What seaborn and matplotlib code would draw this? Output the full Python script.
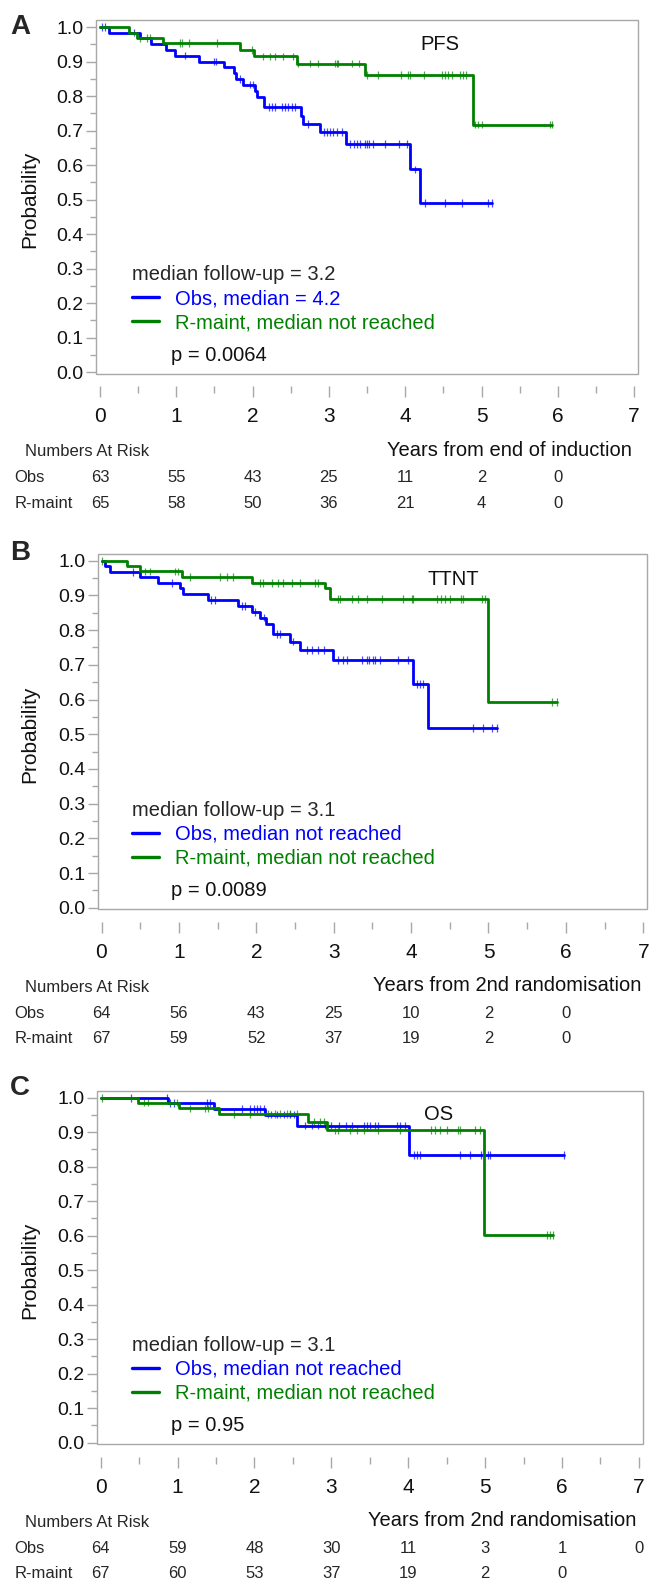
import numpy as np
import pandas as pd
import matplotlib
matplotlib.use('Agg')
import matplotlib.pyplot as plt
import matplotlib.transforms as mtransforms
from matplotlib.lines import Line2D
from matplotlib.patches import Rectangle
from matplotlib.ticker import MultipleLocator
import seaborn as sns

sns.set_style('white')
plt.rcParams['font.family'] = ['Liberation Sans', 'DejaVu Sans']

W, H = 649, 1583
BLUE = '#0000ff'
GREEN = '#008000'
FRAME = '#a8a8a8'
ARMS = ['Obs', 'R-maint']
PALETTE = {'Obs': BLUE, 'R-maint': GREEN}

# ---- PFS (panel A) ----
pfs_obs_t = [0, 0.12, 0.52, 0.67, 0.87, 0.98, 1.30, 1.62, 1.76, 1.78, 1.88, 2.03, 2.06, 2.15,
             2.63, 2.66, 2.88, 3.23, 4.06, 4.19]
pfs_obs_s = [1.0, 0.984, 0.968, 0.951, 0.934, 0.917, 0.900, 0.883, 0.867, 0.850, 0.833, 0.815, 0.796, 0.768,
             0.742, 0.719, 0.695, 0.661, 0.587, 0.490]
pfs_obs_end = 5.14
pfs_obs_cens = [0.03, 0.06, 0.45, 1.11, 1.49, 1.52, 1.84, 1.96, 2.01, 2.22, 2.26, 2.30, 2.38, 2.42, 2.47,
                2.51, 2.55, 2.73, 2.93, 2.97, 3.01, 3.06, 3.10, 3.17, 3.28, 3.33, 3.37, 3.41, 3.47, 3.50,
                3.53, 3.58, 3.73, 3.92, 4.02, 4.13, 4.26, 4.52, 4.74, 5.09, 5.14]
pfs_rm_t = [0, 0.38, 0.48, 0.82, 1.83, 2.02, 2.58, 3.47, 4.89]
pfs_rm_s = [1.0, 0.984, 0.968, 0.953, 0.934, 0.915, 0.894, 0.860, 0.717]
pfs_rm_end = 5.93
pfs_rm_cens = [0.52, 0.61, 0.66, 1.05, 1.07, 1.16, 1.53, 1.99, 2.14, 2.23, 2.29, 2.40, 2.53, 2.60, 2.75,
               2.86, 3.08, 3.10, 3.12, 3.30, 3.39, 3.50, 3.65, 3.95, 4.04, 4.06, 4.24, 4.48, 4.52, 4.56,
               4.61, 4.72, 4.76, 4.80, 4.92, 4.96, 5.00, 5.90, 5.93]

# ---- TTNT (panel B) ----
ttnt_obs_t = [0, 0.045, 0.11, 0.50, 0.73, 1.01, 1.05, 1.38, 1.77, 1.95, 2.05, 2.12, 2.22, 2.43, 2.56,
              2.99, 4.03, 4.22]
ttnt_obs_s = [1.0, 0.984, 0.968, 0.952, 0.936, 0.920, 0.903, 0.887, 0.870, 0.853, 0.836, 0.819, 0.788,
              0.767, 0.743, 0.714, 0.644, 0.517]
ttnt_obs_end = 5.11
ttnt_obs_cens = [0.41, 0.91, 1.42, 1.47, 1.81, 1.85, 1.98, 2.10, 2.27, 2.31, 2.48, 2.65, 2.72, 2.80,
                 2.88, 3.06, 3.12, 3.17, 3.36, 3.43, 3.45, 3.51, 3.53, 3.60, 3.83, 3.96, 4.07, 4.11,
                 4.16, 4.80, 4.93, 5.04, 5.11]
ttnt_rm_t = [0, 0.33, 0.50, 1.04, 1.95, 2.89, 2.95, 4.99]
ttnt_rm_s = [1.0, 0.984, 0.969, 0.953, 0.936, 0.920, 0.889, 0.592]
ttnt_rm_end = 5.89
ttnt_rm_cens = [0.01, 0.56, 0.63, 0.95, 0.99, 1.14, 1.53, 1.62, 1.70, 2.05, 2.09, 2.20, 2.28, 2.35,
                2.46, 2.56, 2.76, 2.80, 3.06, 3.08, 3.23, 3.32, 3.43, 3.62, 3.90, 4.01, 4.03, 4.33,
                4.39, 4.44, 4.50, 4.65, 4.67, 4.91, 4.95, 5.82, 5.89]

# ---- OS (panel C) ----
os_obs_t = [0, 0.88, 1.47, 2.14, 2.56, 4.01]
os_obs_s = [1.0, 0.984, 0.968, 0.951, 0.919, 0.834]
os_obs_end = 6.02
os_obs_cens = [0.40, 0.86, 0.90, 0.95, 1.38, 1.42, 1.84, 1.94, 1.99, 2.03, 2.07, 2.12, 2.22, 2.29,
               2.38, 2.46, 2.52, 2.66, 2.75, 2.83, 2.92, 3.00, 3.10, 3.19, 3.27, 3.42, 3.46, 3.50,
               3.57, 3.61, 3.85, 3.89, 3.96, 4.07, 4.11, 4.15, 4.67, 4.80, 4.95, 5.04, 5.06, 6.02]
os_rm_t = [0, 0.49, 1.02, 1.54, 2.70, 2.94, 4.98]
os_rm_s = [1.0, 0.986, 0.969, 0.952, 0.930, 0.906, 0.602]
os_rm_end = 5.88
os_rm_cens = [0.02, 0.56, 0.62, 0.99, 1.16, 1.36, 1.40, 1.73, 1.94, 2.18, 2.27, 2.33, 2.42, 2.46,
              2.55, 2.77, 2.85, 2.90, 3.05, 3.09, 3.24, 3.33, 3.42, 3.61, 3.89, 4.30, 4.35, 4.41,
              4.50, 4.65, 4.67, 4.87, 4.94, 5.80, 5.84, 5.88]

# numbers at risk
nar_years = [0, 1, 2, 3, 4, 5, 6, 7]
pfs_nar_obs = [63, 55, 43, 25, 11, 2, 0]
pfs_nar_rm = [65, 58, 50, 36, 21, 4, 0]
ttnt_nar_obs = [64, 56, 43, 25, 10, 2, 0]
ttnt_nar_rm = [67, 59, 52, 37, 19, 2, 0]
os_nar_obs = [64, 59, 48, 30, 11, 3, 1, 0]
os_nar_rm = [67, 60, 53, 37, 19, 2, 0]

panels = [
    dict(letter='A', name='PFS', fu='3.2', p='p = 0.0064',
         obs_label='Obs, median = 4.2', rm_label='R-maint, median not reached',
         xlabel='Years from end of induction',
         obs=(pfs_obs_t, pfs_obs_s, pfs_obs_end, pfs_obs_cens),
         rm=(pfs_rm_t, pfs_rm_s, pfs_rm_end, pfs_rm_cens),
         nar=(pfs_nar_obs, pfs_nar_rm),
         x0=100.0, ppy=76.3, y1=27.0, y0=372.0, letter_y=26.5, name_xy=(4.45, 0.949)),
    dict(letter='B', name='TTNT', fu='3.1', p='p = 0.0089',
         obs_label='Obs, median not reached', rm_label='R-maint, median not reached',
         xlabel='Years from 2nd randomisation',
         obs=(ttnt_obs_t, ttnt_obs_s, ttnt_obs_end, ttnt_obs_cens),
         rm=(ttnt_rm_t, ttnt_rm_s, ttnt_rm_end, ttnt_rm_cens),
         nar=(ttnt_nar_obs, ttnt_nar_rm),
         x0=101.5, ppy=77.4, y1=560.7, y0=907.7, letter_y=553, name_xy=(4.54, 0.947)),
    dict(letter='C', name='OS', fu='3.1', p='p = 0.95',
         obs_label='Obs, median not reached', rm_label='R-maint, median not reached',
         xlabel='Years from 2nd randomisation',
         obs=(os_obs_t, os_obs_s, os_obs_end, os_obs_cens),
         rm=(os_rm_t, os_rm_s, os_rm_end, os_rm_cens),
         nar=(os_nar_obs, os_nar_rm),
         x0=100.6, ppy=76.9, y1=1097.7, y0=1442.7, letter_y=1088, name_xy=(4.39, 0.950)),
]

XLIM = (-0.05, 7.05)
YLIM = (-0.005, 1.02)
FS = 14.5


def curve_frame(arm, t, s, end):
    return pd.DataFrame({'time': list(t) + [end], 'surv': list(s) + [s[-1]], 'arm': arm})


def censor_frame(arm, t, s, cens):
    idx = np.searchsorted(t, cens, side='right') - 1
    return pd.DataFrame({'time': cens, 'surv': np.asarray(s)[idx], 'arm': arm})


fig = plt.figure(figsize=(W / 100, H / 100), dpi=100)

for pn in panels:
    ppv = pn['y0'] - pn['y1']
    left = pn['x0'] + XLIM[0] * pn['ppy']
    right = pn['x0'] + XLIM[1] * pn['ppy']
    top = pn['y1'] - (YLIM[1] - 1) * ppv
    bottom = pn['y0'] - YLIM[0] * ppv
    ax = fig.add_axes([left / W, 1 - bottom / H, (right - left) / W, (bottom - top) / H])

    curves = pd.concat([curve_frame('Obs', *pn['obs'][:3]), curve_frame('R-maint', *pn['rm'][:3])])
    cens = pd.concat([censor_frame('Obs', pn['obs'][0], pn['obs'][1], pn['obs'][3]),
                      censor_frame('R-maint', pn['rm'][0], pn['rm'][1], pn['rm'][3])])

    sns.lineplot(data=curves, x='time', y='surv', hue='arm', hue_order=ARMS, palette=PALETTE,
                 estimator=None, sort=False, drawstyle='steps-post', lw=2.0, legend=False, ax=ax)
    sns.scatterplot(data=cens, x='time', y='surv', hue='arm', hue_order=ARMS, palette=PALETTE,
                    marker='|', s=30, linewidth=0.9, alpha=0.7, legend=False, ax=ax)

    ax.set_xlim(*XLIM)
    ax.set_ylim(*YLIM)
    ax.set_xlabel('')
    ax.set_ylabel('')
    ax.xaxis.set_major_locator(MultipleLocator(1))
    ax.xaxis.set_minor_locator(MultipleLocator(0.5))
    ax.yaxis.set_major_locator(MultipleLocator(0.1))
    ax.yaxis.set_minor_locator(MultipleLocator(0.05))
    ax.yaxis.set_major_formatter(lambda v, _: f'{v:.1f}')

    for side in ['top', 'right', 'left', 'bottom']:
        ax.spines[side].set_visible(False)
    ax.spines['bottom'].set_position(('outward', 9))
    ax.add_patch(Rectangle((0, 0), 1, 1, transform=ax.transAxes, fill=False,
                           ec=FRAME, lw=1.0, clip_on=False, zorder=5))

    ax.tick_params(axis='x', which='major', direction='out', length=8, width=1, color=FRAME,
                   labelsize=15, pad=7, labelcolor='#111111')
    ax.tick_params(axis='x', which='minor', direction='out', length=5, width=1, color=FRAME)
    ax.tick_params(axis='y', which='major', direction='out', length=7, width=1, color=FRAME,
                   labelsize=14, pad=2, labelcolor='#111111')
    ax.tick_params(axis='y', which='minor', direction='out', length=4, width=1, color=FRAME)
    ax.tick_params(bottom=True, left=True, which='both')

    # curve name
    ax.text(*pn['name_xy'], pn['name'], fontsize=FS, ha='center', va='center', color='#111111')

    # legend block
    handles = [Line2D([], [], color=BLUE, lw=2.4), Line2D([], [], color=GREEN, lw=2.4)]
    leg_x = (128 - left) / (right - left)
    leg_top = (bottom - (pn['y0'] - 99 - 12)) / (bottom - top)
    leg = ax.legend(handles, [pn['obs_label'], pn['rm_label']],
                    title=f"median follow-up = {pn['fu']}", loc='upper left',
                    bbox_to_anchor=(leg_x, leg_top), frameon=False, fontsize=FS,
                    title_fontsize=FS, handlelength=1.35, handletextpad=0.8,
                    labelspacing=0.25, borderpad=0.2, borderaxespad=0, alignment='left',
                    labelcolor=[BLUE, GREEN])
    ax.text((171 - pn['x0']) / pn['ppy'], 17 / ppv, pn['p'], fontsize=FS, va='center',
            ha='left', color='#111111')

    # panel letter and y label
    fig.text(10 / W, 1 - pn['letter_y'] / H, pn['letter'], fontsize=20, fontweight='bold',
             ha='left', va='center')
    fig.text(30 / W, 1 - (pn['y0'] - 0.5 * ppv) / H, 'Probability', rotation=90,
             fontsize=15, ha='center', va='center', color='#111111')

    # numbers at risk
    trans = mtransforms.blended_transform_factory(ax.transData, fig.transFigure)
    y_head = pn['y0'] + 80
    y_obs = pn['y0'] + 106
    y_rm = pn['y0'] + 131
    fig.text(25 / W, 1 - y_head / H, 'Numbers At Risk', fontsize=12, ha='left', va='center')
    ax.text(6.97, 1 - (y_head - 2) / H, pn['xlabel'], transform=trans, fontsize=FS,
            ha='right', va='center', color='#111111')
    for row_name, row_vals, yy in [('Obs', pn['nar'][0], y_obs), ('R-maint', pn['nar'][1], y_rm)]:
        fig.text(14.5 / W, 1 - yy / H, row_name, fontsize=12, ha='left', va='center')
        for yr, n in zip(nar_years, row_vals):
            ax.text(yr, 1 - yy / H, str(n), transform=trans, fontsize=12, ha='center',
                    va='center', clip_on=False)

fig.savefig('out.png', dpi=100)
